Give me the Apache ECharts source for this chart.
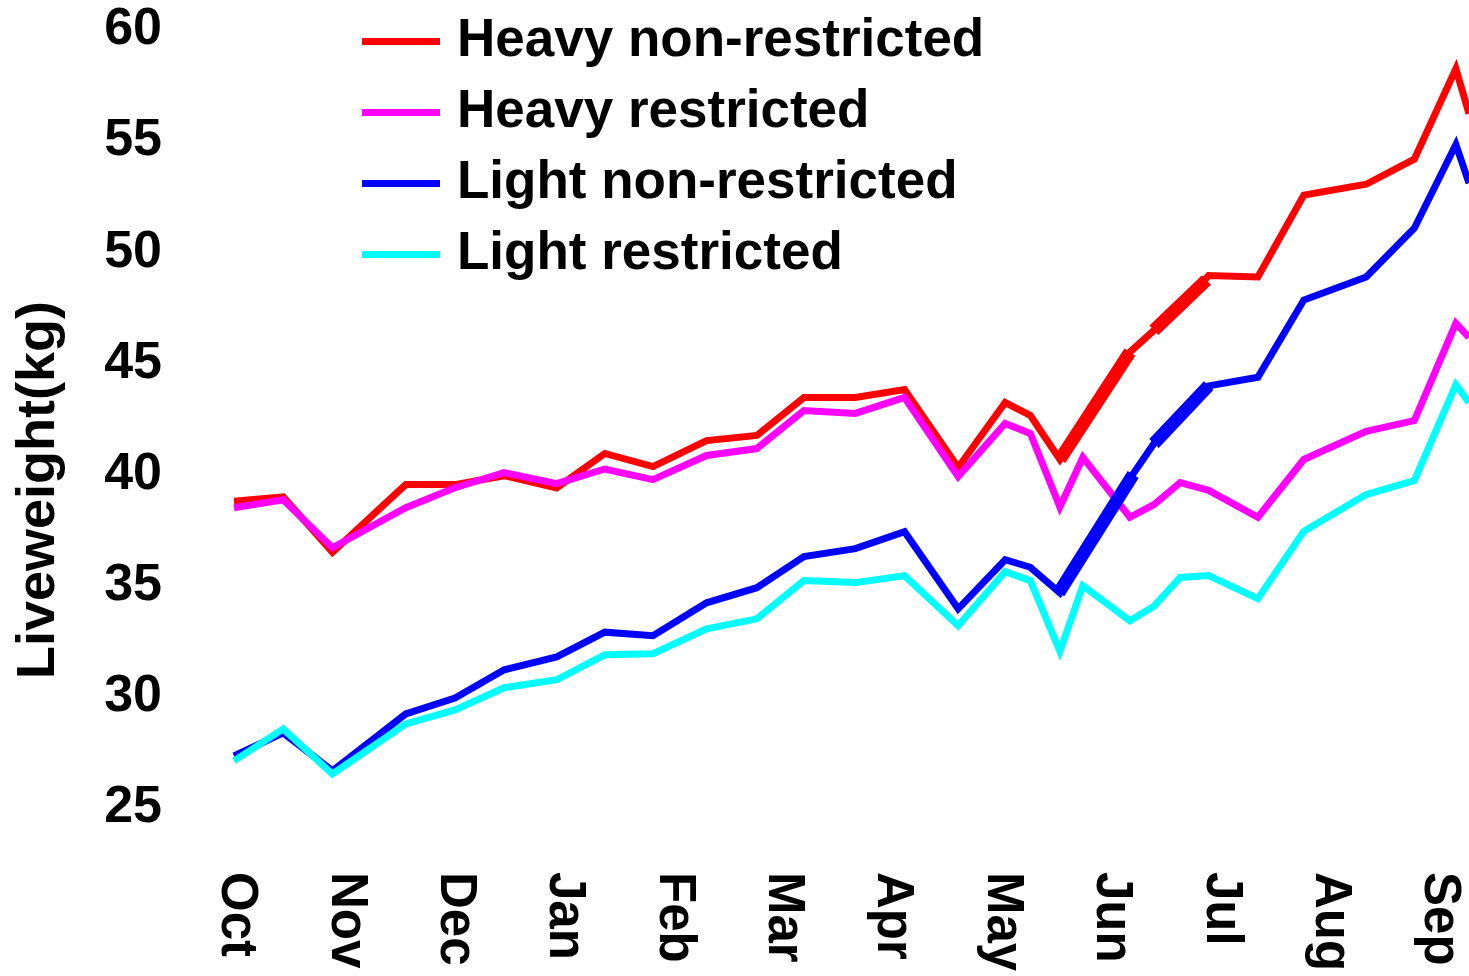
<!DOCTYPE html>
<html>
<head>
<meta charset="utf-8">
<script src="https://cdn.jsdelivr.net/npm/echarts@6/dist/echarts.min.js"></script>
<style>
  html, body { margin: 0; padding: 0; background: #fff; }
  #chart { width: 1469px; height: 976px; }
</style>
</head>
<body>
<div id="chart"></div>
<script>
// Month tick labels (tick at month index 0..11)
const months = ['Oct', 'Nov', 'Dec', 'Jan', 'Feb', 'Mar', 'Apr', 'May', 'Jun', 'Jul', 'Aug', 'Sep'];
const monthTicks = [0, 1, 2, 3, 4, 5, 6, 7, 8, 9, 10, 11];
const yTicks = [25, 30, 35, 40, 45, 50, 55, 60];

// Weighing dates, in months since the start of October
const sampleMonths = [-0.02, 0.43, 0.88, 1.55, 2.00, 2.45, 2.93, 3.37, 3.81, 4.30, 4.76, 5.19, 5.66, 6.11,
  6.60, 7.03, 7.26, 7.53, 7.74, 8.17, 8.39, 8.63, 8.89, 9.34, 9.76, 10.33, 10.77, 11.15, 11.27];

// Liveweight (kg)
const heavyNonRestricted = [38.8, 39.0, 36.5, 39.55, 39.55, 39.95, 39.4, 40.95, 40.36, 41.53, 41.76, 43.47, 43.47, 43.83,
  40.32, 43.24, 42.66, 40.68, 42.27, 45.51, 46.49, 47.59, 48.95, 48.89, 52.57, 53.06, 54.19, 58.26, 56.23];
const heavyRestricted = [38.51, 38.87, 36.71, 38.51, 39.41, 40.09, 39.59, 40.25, 39.77, 40.86, 41.17, 42.88, 42.75, 43.47,
  39.91, 42.30, 41.85, 38.54, 40.77, 38.08, 38.65, 39.64, 39.29, 38.08, 40.68, 41.95, 42.43, 46.80, 46.17];
const lightNonRestricted = [27.34, 28.38, 26.67, 29.23, 29.95, 31.22, 31.80, 32.91, 32.75, 34.23, 34.91, 36.31, 36.67, 37.43,
  33.96, 36.17, 35.83, 34.68, 36.41, 39.82, 41.40, 42.63, 43.99, 44.38, 47.85, 48.89, 51.08, 54.85, 53.11];
const lightRestricted = [27.12, 28.56, 26.53, 28.78, 29.41, 30.41, 30.77, 31.89, 31.94, 33.06, 33.51, 35.23, 35.14, 35.45,
  33.20, 35.63, 35.23, 32.05, 35.00, 33.42, 34.08, 35.37, 35.46, 34.42, 37.45, 39.10, 39.73, 44.04, 43.24];

// Thick overlapping segments visible in June-July
const heavyOverlayMonths = [7.53, 8.17, 8.28, 8.39, 8.87];
const heavyOverlay = [40.68, 45.51, null, 46.49, 48.75];
const lightOverlayMonths = [7.52, 8.20, 8.30, 8.39, 8.89];
const lightOverlay = [34.68, 40.0, null, 41.40, 44.0];

const seriesNames = ['Heavy non-restricted', 'Heavy restricted', 'Light non-restricted', 'Light restricted'];
const seriesColors = ['#ff0000', '#ff00ff', '#0000ff', '#00ffff'];
const seriesValues = [heavyNonRestricted, heavyRestricted, lightNonRestricted, lightRestricted];

const FONT = '"Liberation Sans", Arial, sans-serif';

function pairs(xs, ys) { return xs.map((x, i) => [x, ys[i]]); }

const series = seriesNames.map((name, i) => ({
  name: name,
  type: 'line',
  data: pairs(sampleMonths, seriesValues[i]),
  symbol: 'none',
  clip: true,
  lineStyle: { color: seriesColors[i], width: 7, join: 'miter', cap: 'butt' },
  itemStyle: { color: seriesColors[i] },
  emphasis: { disabled: true },
  animation: false
}));
series.push({
  name: 'Heavy non-restricted overlay', type: 'line', data: pairs(heavyOverlayMonths, heavyOverlay),
  symbol: 'none', connectNulls: false,
  lineStyle: { color: seriesColors[0], width: 13, cap: 'butt' }, itemStyle: { color: seriesColors[0] },
  emphasis: { disabled: true }, animation: false
});
series.push({
  name: 'Light non-restricted overlay', type: 'line', data: pairs(lightOverlayMonths, lightOverlay),
  symbol: 'none', connectNulls: false,
  lineStyle: { color: seriesColors[2], width: 13, cap: 'butt' }, itemStyle: { color: seriesColors[2] },
  emphasis: { disabled: true }, animation: false
});

const chart = echarts.init(document.getElementById('chart'), null, { renderer: 'canvas' });
chart.setOption({
  animation: false,
  backgroundColor: '#ffffff',
  grid: { left: 234, right: 0, top: 30, bottom: 168, containLabel: false },
  legend: {
    data: seriesNames,
    orient: 'vertical',
    left: 357,
    top: 10,
    itemWidth: 78,
    itemHeight: 7,
    itemGap: 18,
    icon: 'rect',
    selectedMode: false,
    textStyle: { fontFamily: FONT, fontWeight: 'bold', fontSize: 53, lineHeight: 53, color: '#000', padding: [0, 0, 0, 12] }
  },
  xAxis: {
    type: 'value',
    min: -0.02,
    max: 11.27,
    axisLine: { show: false },
    axisTick: { show: false },
    splitLine: { show: false },
    axisLabel: {
      customValues: monthTicks,
      formatter: v => months[Math.round(v)] || '',
      rotate: -90,
      margin: 64,
      fontFamily: FONT, fontWeight: 'bold', fontSize: 51, color: '#000'
    }
  },
  yAxis: {
    type: 'value',
    min: yTicks[0],
    max: yTicks[yTicks.length - 1],
    interval: 5,
    axisLine: { show: false },
    axisTick: { show: false },
    splitLine: { show: false },
    axisLabel: { margin: 72, fontFamily: FONT, fontWeight: 'bold', fontSize: 52, color: '#000' }
  },
  graphic: [{
    type: 'text',
    x: 39, y: 490,
    rotation: Math.PI / 2,
    style: {
      text: 'Liveweight(kg)',
      fontFamily: FONT, fontWeight: 'bold', fontSize: 54,
      fill: '#000', align: 'center', verticalAlign: 'middle'
    }
  }],
  series: series
});
</script>
</body>
</html>
